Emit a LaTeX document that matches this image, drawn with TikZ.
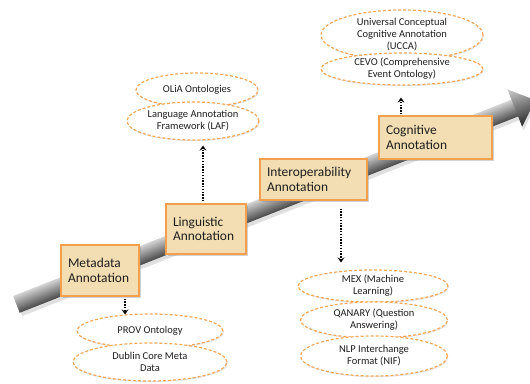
\documentclass[tikz,border=0pt]{standalone}
\usepackage{fontspec}
\setmainfont{Carlito}
\usetikzlibrary{shapes.geometric, arrows.meta, shadows}
\definecolor{parch}{RGB}{242,222,178}
\definecolor{stageedge}{RGB}{242,160,78}
\definecolor{ovaledge}{RGB}{244,168,88}
\definecolor{ink}{RGB}{30,30,30}
\begin{document}
\begin{tikzpicture}[x=1pt, y=-1pt,
  stagebox/.style={rectangle, draw=stageedge, fill=parch, line width=1.2pt,
    align=left, inner xsep=7pt, inner ysep=3pt, text=ink,
    font=\fontsize{13.4}{14.5}\selectfont,
    drop shadow={opacity=0.35, shadow xshift=1.5pt, shadow yshift=-1.5pt}},
  oval/.style={ellipse, draw=ovaledge, line width=1.2pt, dash pattern=on 3pt off 2pt,
    fill=white, inner sep=0pt, align=center, text=ink,
    font=\fontsize{10.5}{12}\selectfont,
    drop shadow={opacity=0.2, shadow xshift=0.8pt, shadow yshift=-1.2pt}},
  dotlink/.style={draw=black, line width=1.6pt, dash pattern=on 1.4pt off 1.4pt,
    -{Stealth[length=5pt, width=7pt, inset=2pt]}}]

\useasboundingbox (0,0) rectangle (530,383);

% timeline arrow, drawn along its own axis
\begin{scope}[transform canvas={shift={(16.4pt,-304.4pt)}, rotate=21.5}]
  \fill[black, opacity=0.12] (1pt,-13pt) -- (535.7pt,-13pt) -- (535.7pt,-24pt)
    -- (557.7pt,-4pt) -- (535.7pt,16pt) -- (535.7pt,5pt) -- (1pt,5pt) -- cycle;
  \shade[top color=gray!35, bottom color=black!72]
    (0pt,-9pt) rectangle (536pt,9pt);
  \shade[top color=gray!40, bottom color=black!85]
    (535.7pt,-20pt) -- (557.7pt,0pt) -- (535.7pt,20pt) -- cycle;
\end{scope}

% annotation stages
\node[stagebox, minimum width=78pt, minimum height=51pt, text width=64pt]
  (meta) at (100,270.5) {Metadata\\Annotation};
\node[stagebox, minimum width=80pt, minimum height=50pt, text width=66pt]
  (ling) at (206,229) {Linguistic\\Annotation};
\node[stagebox, minimum width=107pt, minimum height=41pt, text width=93pt]
  (interop) at (313.5,179.5) {Interoperability\\Annotation};
\node[stagebox, minimum width=113pt, minimum height=43pt, text width=99pt]
  (cog) at (435.5,137.5) {Cognitive\\Annotation};

% resources per stage
\node[oval, minimum width=146pt, minimum height=34pt] (prov) at (150,331) {PROV Ontology};
\node[oval, minimum width=154pt, minimum height=38pt] (dublin) at (150,362) {Dublin Core Meta\\Data};

\node[oval, minimum width=122pt, minimum height=34pt] (olia) at (197,90) {OLiA Ontologies};
\node[oval, minimum width=132pt, minimum height=38pt] (laf) at (193,121) {Language Annotation\\Framework (LAF)};

\node[oval, minimum width=162pt, minimum height=50pt] (ucca) at (402,35) {Universal Conceptual\\Cognitive Annotation\\(UCCA)};
\node[oval, minimum width=162pt, minimum height=32pt] (cevo) at (402,69) {CEVO (Comprehensive\\Event Ontology)};

\node[oval, minimum width=150pt, minimum height=32pt] (mex) at (373,286) {MEX (Machine\\Learning)};
\node[oval, minimum width=147pt, minimum height=36pt] (qanary) at (374,320) {QANARY (Question\\Answering)};
\node[oval, minimum width=147pt, minimum height=40pt] (nif) at (374,356) {NLP Interchange\\Format (NIF)};

% links from stages to resources
\draw[dotlink] ([xshift=25pt, yshift=-2pt]meta.south) -- ([xshift=25pt, yshift=-1pt]meta.south |- prov.north);
\draw[dotlink] ([xshift=-3pt, yshift=2pt]ling.north) -- ([xshift=-3pt, yshift=-5pt]ling.north |- laf.south);
\draw[dotlink] ([xshift=27.5pt, yshift=-8pt]interop.south) -- ([xshift=27.5pt, yshift=7pt]interop.south |- mex.north);
\draw[dotlink] ([xshift=-34.5pt, yshift=1pt]cog.north) -- ([xshift=-34.5pt, yshift=-12pt]cog.north |- cevo.south);

\end{tikzpicture}
\end{document}
